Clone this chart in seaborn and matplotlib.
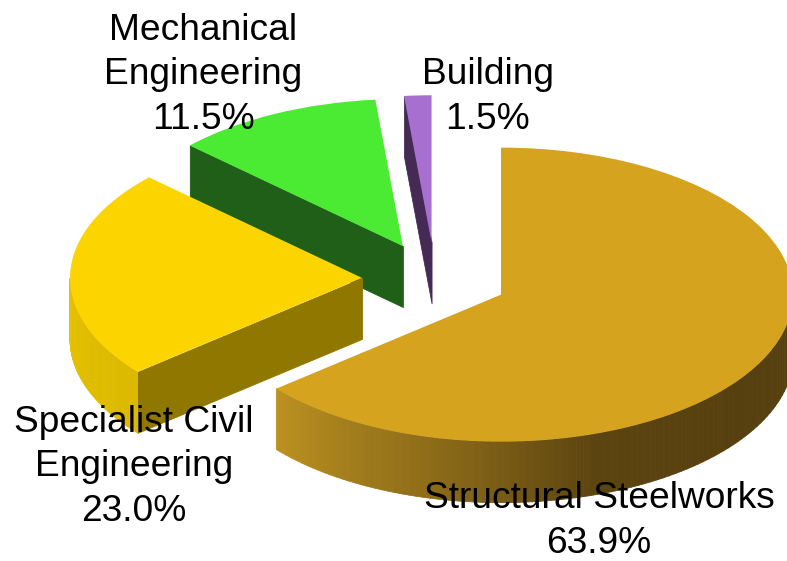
"""3D-looking exploded pie: share of work per sector."""

import numpy as np
import matplotlib.pyplot as plt
import seaborn as sns
from matplotlib.collections import PolyCollection

labels = ["Structural Steelworks", "Specialist Civil\nEngineering", "Mechanical\nEngineering", "Building"]
shares = [63.9, 23.0, 11.5, 1.5]

top_colors = ["#d6a31e", "#fcd500", "#4bea33", "#a66fd0"]
cut_colors = ["#d6a31e", "#8f7700", "#1f5f17", "#452a55"]
rim_stops = [
    ["#bb9020", "#8f6d19", "#5c4410", "#57400f", "#57400f"],
    ["#e6c200", "#dcb800"],
    ["#1f5f17", "#1f5f17"],
    ["#452a55", "#452a55"],
]

W, H = 787, 561
CX, CY = 435, 279     # pie centre in pixels
RX, RY = 292, 147     # pixels per unit radius, flattened for the tilt
DEPTH = 61 / RY       # wall height in data units
N_RIM = 160

# middle of each text block, in pixels
label_pos = [(599, 521), (134, 467), (203, 75), (488, 97)]

sns.set_theme(style="white")
plt.rcParams["font.family"] = ["Liberation Sans", "DejaVu Sans"]

fig = plt.figure(figsize=(W / 100, H / 100), dpi=100)
ax = fig.add_axes([0, 0, 1, 1])

wedges, _ = ax.pie(
    shares,
    colors=top_colors,
    explode=[0.25] * len(shares),
    startangle=90,
    counterclock=False,
    wedgeprops={"linewidth": 0},
)

ax.set_aspect("auto")
ax.set_xlim(-CX / RX, (W - CX) / RX)
ax.set_ylim((CY - H) / RY, CY / RY)
ax.axis("off")


def rim_point(wedge, deg):
    t = np.radians(deg)
    return wedge.center[0] + wedge.r * np.cos(t), wedge.center[1] + wedge.r * np.sin(t)


# walls go in back-to-front, the smallest slice is furthest back
for i, wedge in enumerate(wedges):
    z = 2 * (len(wedges) - i)
    wedge.set_zorder(z + 1)

    # straight cut face, on the edge where the slice starts clockwise
    x0, y0 = wedge.center
    x1, y1 = rim_point(wedge, wedge.theta2)
    face = [(x0, y0), (x1, y1), (x1, y1 - DEPTH), (x0, y0 - DEPTH)]
    ax.add_collection(
        PolyCollection([face], facecolors=cut_colors[i], edgecolors=cut_colors[i], linewidths=0.6, zorder=z)
    )

    # curved wall, only the arc that faces the viewer
    deg = np.linspace(wedge.theta1, wedge.theta2, N_RIM)
    deg = deg[np.sin(np.radians(deg)) < 0]
    if len(deg) < 2:
        continue
    xs, ys = rim_point(wedge, deg)
    quads = [
        [(xs[k], ys[k]), (xs[k + 1], ys[k + 1]), (xs[k + 1], ys[k + 1] - DEPTH), (xs[k], ys[k] - DEPTH)]
        for k in range(len(deg) - 1)
    ]
    if xs[0] > xs[-1]:
        quads = quads[::-1]
    shades = sns.blend_palette(rim_stops[i], n_colors=len(quads))
    ax.add_collection(PolyCollection(quads, facecolors=shades, edgecolors=shades, linewidths=0.6, zorder=z))

for label, share, (px, py) in zip(labels, shares, label_pos):
    fig.text(
        px / W,
        1 - py / H,
        f"{label}\n{share:.1f}%",
        ha="center",
        va="center",
        fontsize=26.7,
        color="black",
        linespacing=1.37,
        zorder=20,
    )

fig.savefig("out.png", dpi=100)
